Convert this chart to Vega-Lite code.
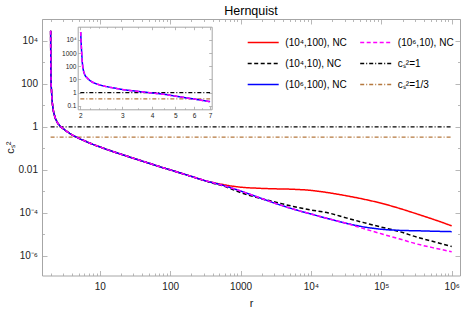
{
  "$schema": "https://vega.github.io/schema/vega-lite/v6.json",
  "autosize": {"type": "none"},
  "padding": {"left": 42, "top": 19, "right": 3, "bottom": 35.5},
  "width": 418,
  "height": 256.5,
  "title": {"text": "Hernquist", "font": "Liberation Sans", "fontSize": 12.5, "fontWeight": "normal", "color": "#000000", "anchor": "middle", "frame": "group", "baseline": "alphabetic", "offset": 7, "dy": 20},
  "config": {
    "view": {"stroke": "#a6a6a6", "strokeWidth": 1},
    "axis": {"grid": false, "tickColor": "#a6a6a6", "domainColor": "#a6a6a6", "tickWidth": 0.8, "labelFont": "Liberation Sans", "titleFont": "Liberation Sans", "labelColor": "#222222", "titleColor": "#222222", "titleFontWeight": "normal", "labelOverlap": false, "labelFlush": false},
    "line": {"interpolate": "monotone"}
  },
  "datasets": {
    "curves": [
      {"s": "(10⁴,100), NC", "r": 2.003, "c": 30000}, {"s": "(10⁴,100), NC", "r": 2.008, "c": 4000}, {"s": "(10⁴,100), NC", "r": 2.015, "c": 800}, {"s": "(10⁴,100), NC", "r": 2.03, "c": 150}, {"s": "(10⁴,100), NC", "r": 2.06, "c": 50}, {"s": "(10⁴,100), NC", "r": 2.1, "c": 18}, {"s": "(10⁴,100), NC", "r": 2.17, "c": 7}, {"s": "(10⁴,100), NC", "r": 2.3, "c": 3}, {"s": "(10⁴,100), NC", "r": 2.45, "c": 1.8}, {"s": "(10⁴,100), NC", "r": 2.7, "c": 1.15}, {"s": "(10⁴,100), NC", "r": 3, "c": 0.85}, {"s": "(10⁴,100), NC", "r": 3.5, "c": 0.58}, {"s": "(10⁴,100), NC", "r": 4, "c": 0.44}, {"s": "(10⁴,100), NC", "r": 5, "c": 0.3}, {"s": "(10⁴,100), NC", "r": 6, "c": 0.23}, {"s": "(10⁴,100), NC", "r": 7, "c": 0.185}, {"s": "(10⁴,100), NC", "r": 8, "c": 0.155}, {"s": "(10⁴,100), NC", "r": 10, "c": 0.118}, {"s": "(10⁴,100), NC", "r": 12, "c": 0.095}, {"s": "(10⁴,100), NC", "r": 15, "c": 0.074}, {"s": "(10⁴,100), NC", "r": 20, "c": 0.054}, {"s": "(10⁴,100), NC", "r": 30, "c": 0.035}, {"s": "(10⁴,100), NC", "r": 50, "c": 0.0205}, {"s": "(10⁴,100), NC", "r": 70, "c": 0.0144}, {"s": "(10⁴,100), NC", "r": 100, "c": 0.0101}, {"s": "(10⁴,100), NC", "r": 150, "c": 0.0067}, {"s": "(10⁴,100), NC", "r": 200, "c": 0.005}, {"s": "(10⁴,100), NC", "r": 300, "c": 0.0033},
      {"s": "(10⁴,100), NC", "r": 398, "c": 0.00263}, {"s": "(10⁴,100), NC", "r": 562, "c": 0.00209}, {"s": "(10⁴,100), NC", "r": 1000, "c": 0.00158}, {"s": "(10⁴,100), NC", "r": 1778, "c": 0.00141}, {"s": "(10⁴,100), NC", "r": 3162, "c": 0.00132}, {"s": "(10⁴,100), NC", "r": 5623, "c": 0.00126}, {"s": "(10⁴,100), NC", "r": 10000, "c": 0.00112}, {"s": "(10⁴,100), NC", "r": 17783, "c": 0.000871}, {"s": "(10⁴,100), NC", "r": 31623, "c": 0.000631}, {"s": "(10⁴,100), NC", "r": 56234, "c": 0.000437}, {"s": "(10⁴,100), NC", "r": 100000, "c": 0.000282}, {"s": "(10⁴,100), NC", "r": 177828, "c": 0.000166}, {"s": "(10⁴,100), NC", "r": 316228, "c": 0.0000912}, {"s": "(10⁴,100), NC", "r": 562341, "c": 0.000049}, {"s": "(10⁴,100), NC", "r": 1000000, "c": 0.0000251},

      {"s": "(10⁴,10), NC", "r": 2.003, "c": 30000}, {"s": "(10⁴,10), NC", "r": 2.008, "c": 4000}, {"s": "(10⁴,10), NC", "r": 2.015, "c": 800}, {"s": "(10⁴,10), NC", "r": 2.03, "c": 150}, {"s": "(10⁴,10), NC", "r": 2.06, "c": 50}, {"s": "(10⁴,10), NC", "r": 2.1, "c": 18}, {"s": "(10⁴,10), NC", "r": 2.17, "c": 7}, {"s": "(10⁴,10), NC", "r": 2.3, "c": 3}, {"s": "(10⁴,10), NC", "r": 2.45, "c": 1.8}, {"s": "(10⁴,10), NC", "r": 2.7, "c": 1.15}, {"s": "(10⁴,10), NC", "r": 3, "c": 0.85}, {"s": "(10⁴,10), NC", "r": 3.5, "c": 0.58}, {"s": "(10⁴,10), NC", "r": 4, "c": 0.44}, {"s": "(10⁴,10), NC", "r": 5, "c": 0.3}, {"s": "(10⁴,10), NC", "r": 6, "c": 0.23}, {"s": "(10⁴,10), NC", "r": 7, "c": 0.185}, {"s": "(10⁴,10), NC", "r": 8, "c": 0.155}, {"s": "(10⁴,10), NC", "r": 10, "c": 0.118}, {"s": "(10⁴,10), NC", "r": 12, "c": 0.095}, {"s": "(10⁴,10), NC", "r": 15, "c": 0.074}, {"s": "(10⁴,10), NC", "r": 20, "c": 0.054}, {"s": "(10⁴,10), NC", "r": 30, "c": 0.035}, {"s": "(10⁴,10), NC", "r": 50, "c": 0.0205}, {"s": "(10⁴,10), NC", "r": 70, "c": 0.0144}, {"s": "(10⁴,10), NC", "r": 100, "c": 0.0101}, {"s": "(10⁴,10), NC", "r": 150, "c": 0.0067}, {"s": "(10⁴,10), NC", "r": 200, "c": 0.005}, {"s": "(10⁴,10), NC", "r": 300, "c": 0.0033},
      {"s": "(10⁴,10), NC", "r": 398, "c": 0.00245}, {"s": "(10⁴,10), NC", "r": 562, "c": 0.00182}, {"s": "(10⁴,10), NC", "r": 1000, "c": 0.000891}, {"s": "(10⁴,10), NC", "r": 1778, "c": 0.000501}, {"s": "(10⁴,10), NC", "r": 3162, "c": 0.000316}, {"s": "(10⁴,10), NC", "r": 5623, "c": 0.0002}, {"s": "(10⁴,10), NC", "r": 10000, "c": 0.000138}, {"s": "(10⁴,10), NC", "r": 17783, "c": 0.0001}, {"s": "(10⁴,10), NC", "r": 31623, "c": 0.0000589}, {"s": "(10⁴,10), NC", "r": 56234, "c": 0.0000355}, {"s": "(10⁴,10), NC", "r": 100000, "c": 0.0000219}, {"s": "(10⁴,10), NC", "r": 177828, "c": 0.0000138}, {"s": "(10⁴,10), NC", "r": 316228, "c": 0.00000759}, {"s": "(10⁴,10), NC", "r": 562341, "c": 0.00000457}, {"s": "(10⁴,10), NC", "r": 1000000, "c": 0.00000275},

      {"s": "(10⁶,100), NC", "r": 2.003, "c": 30000}, {"s": "(10⁶,100), NC", "r": 2.008, "c": 4000}, {"s": "(10⁶,100), NC", "r": 2.015, "c": 800}, {"s": "(10⁶,100), NC", "r": 2.03, "c": 150}, {"s": "(10⁶,100), NC", "r": 2.06, "c": 50}, {"s": "(10⁶,100), NC", "r": 2.1, "c": 18}, {"s": "(10⁶,100), NC", "r": 2.17, "c": 7}, {"s": "(10⁶,100), NC", "r": 2.3, "c": 3}, {"s": "(10⁶,100), NC", "r": 2.45, "c": 1.8}, {"s": "(10⁶,100), NC", "r": 2.7, "c": 1.15}, {"s": "(10⁶,100), NC", "r": 3, "c": 0.85}, {"s": "(10⁶,100), NC", "r": 3.5, "c": 0.58}, {"s": "(10⁶,100), NC", "r": 4, "c": 0.44}, {"s": "(10⁶,100), NC", "r": 5, "c": 0.3}, {"s": "(10⁶,100), NC", "r": 6, "c": 0.23}, {"s": "(10⁶,100), NC", "r": 7, "c": 0.185}, {"s": "(10⁶,100), NC", "r": 8, "c": 0.155}, {"s": "(10⁶,100), NC", "r": 10, "c": 0.118}, {"s": "(10⁶,100), NC", "r": 12, "c": 0.095}, {"s": "(10⁶,100), NC", "r": 15, "c": 0.074}, {"s": "(10⁶,100), NC", "r": 20, "c": 0.054}, {"s": "(10⁶,100), NC", "r": 30, "c": 0.035}, {"s": "(10⁶,100), NC", "r": 50, "c": 0.0205}, {"s": "(10⁶,100), NC", "r": 70, "c": 0.0144}, {"s": "(10⁶,100), NC", "r": 100, "c": 0.0101}, {"s": "(10⁶,100), NC", "r": 150, "c": 0.0067}, {"s": "(10⁶,100), NC", "r": 200, "c": 0.005}, {"s": "(10⁶,100), NC", "r": 300, "c": 0.0033},
      {"s": "(10⁶,100), NC", "r": 398, "c": 0.0026}, {"s": "(10⁶,100), NC", "r": 562, "c": 0.00191}, {"s": "(10⁶,100), NC", "r": 1000, "c": 0.00105}, {"s": "(10⁶,100), NC", "r": 1778, "c": 0.000537}, {"s": "(10⁶,100), NC", "r": 3162, "c": 0.000275}, {"s": "(10⁶,100), NC", "r": 5623, "c": 0.000151}, {"s": "(10⁶,100), NC", "r": 10000, "c": 0.0000891}, {"s": "(10⁶,100), NC", "r": 17783, "c": 0.0000537}, {"s": "(10⁶,100), NC", "r": 31623, "c": 0.0000331}, {"s": "(10⁶,100), NC", "r": 56234, "c": 0.0000224}, {"s": "(10⁶,100), NC", "r": 100000, "c": 0.0000174}, {"s": "(10⁶,100), NC", "r": 177828, "c": 0.0000155}, {"s": "(10⁶,100), NC", "r": 316228, "c": 0.0000148}, {"s": "(10⁶,100), NC", "r": 562341, "c": 0.0000141}, {"s": "(10⁶,100), NC", "r": 1000000, "c": 0.0000135},

      {"s": "(10⁶,10), NC", "r": 2.003, "c": 30000}, {"s": "(10⁶,10), NC", "r": 2.008, "c": 4000}, {"s": "(10⁶,10), NC", "r": 2.015, "c": 800}, {"s": "(10⁶,10), NC", "r": 2.03, "c": 150}, {"s": "(10⁶,10), NC", "r": 2.06, "c": 50}, {"s": "(10⁶,10), NC", "r": 2.1, "c": 18}, {"s": "(10⁶,10), NC", "r": 2.17, "c": 7}, {"s": "(10⁶,10), NC", "r": 2.3, "c": 3}, {"s": "(10⁶,10), NC", "r": 2.45, "c": 1.8}, {"s": "(10⁶,10), NC", "r": 2.7, "c": 1.15}, {"s": "(10⁶,10), NC", "r": 3, "c": 0.85}, {"s": "(10⁶,10), NC", "r": 3.5, "c": 0.58}, {"s": "(10⁶,10), NC", "r": 4, "c": 0.44}, {"s": "(10⁶,10), NC", "r": 5, "c": 0.3}, {"s": "(10⁶,10), NC", "r": 6, "c": 0.23}, {"s": "(10⁶,10), NC", "r": 7, "c": 0.185}, {"s": "(10⁶,10), NC", "r": 8, "c": 0.155}, {"s": "(10⁶,10), NC", "r": 10, "c": 0.118}, {"s": "(10⁶,10), NC", "r": 12, "c": 0.095}, {"s": "(10⁶,10), NC", "r": 15, "c": 0.074}, {"s": "(10⁶,10), NC", "r": 20, "c": 0.054}, {"s": "(10⁶,10), NC", "r": 30, "c": 0.035}, {"s": "(10⁶,10), NC", "r": 50, "c": 0.0205}, {"s": "(10⁶,10), NC", "r": 70, "c": 0.0144}, {"s": "(10⁶,10), NC", "r": 100, "c": 0.0101}, {"s": "(10⁶,10), NC", "r": 150, "c": 0.0067}, {"s": "(10⁶,10), NC", "r": 200, "c": 0.005}, {"s": "(10⁶,10), NC", "r": 300, "c": 0.0033},
      {"s": "(10⁶,10), NC", "r": 398, "c": 0.0026}, {"s": "(10⁶,10), NC", "r": 562, "c": 0.00191}, {"s": "(10⁶,10), NC", "r": 1000, "c": 0.00105}, {"s": "(10⁶,10), NC", "r": 1778, "c": 0.000537}, {"s": "(10⁶,10), NC", "r": 3162, "c": 0.000275}, {"s": "(10⁶,10), NC", "r": 5623, "c": 0.000151}, {"s": "(10⁶,10), NC", "r": 10000, "c": 0.0000891}, {"s": "(10⁶,10), NC", "r": 17783, "c": 0.0000537}, {"s": "(10⁶,10), NC", "r": 31623, "c": 0.0000331}, {"s": "(10⁶,10), NC", "r": 56234, "c": 0.0000186}, {"s": "(10⁶,10), NC", "r": 100000, "c": 0.0000107}, {"s": "(10⁶,10), NC", "r": 177828, "c": 0.00000631}, {"s": "(10⁶,10), NC", "r": 316228, "c": 0.00000363}, {"s": "(10⁶,10), NC", "r": 562341, "c": 0.00000234}, {"s": "(10⁶,10), NC", "r": 1000000, "c": 0.00000158}
    ],
    "hl": [
      {"s": "cₛ²=1", "r": 2, "c": 1}, {"s": "cₛ²=1", "r": 1000000, "c": 1},
      {"s": "cₛ²=1/3", "r": 2, "c": 0.33333}, {"s": "cₛ²=1/3", "r": 1000000, "c": 0.33333}
    ],
    "inset": [
      {"s": "(10⁶,100), NC", "r": 2.007, "c": 40000}, {"s": "(10⁶,100), NC", "r": 2.013, "c": 10000}, {"s": "(10⁶,100), NC", "r": 2.02, "c": 3000}, {"s": "(10⁶,100), NC", "r": 2.027, "c": 1000}, {"s": "(10⁶,100), NC", "r": 2.035, "c": 300}, {"s": "(10⁶,100), NC", "r": 2.047, "c": 100}, {"s": "(10⁶,100), NC", "r": 2.06, "c": 50}, {"s": "(10⁶,100), NC", "r": 2.09, "c": 22}, {"s": "(10⁶,100), NC", "r": 2.13, "c": 14}, {"s": "(10⁶,100), NC", "r": 2.2, "c": 8}, {"s": "(10⁶,100), NC", "r": 2.3, "c": 5.2}, {"s": "(10⁶,100), NC", "r": 2.4, "c": 4}, {"s": "(10⁶,100), NC", "r": 2.6, "c": 2.8}, {"s": "(10⁶,100), NC", "r": 2.8, "c": 2.2}, {"s": "(10⁶,100), NC", "r": 3, "c": 1.75}, {"s": "(10⁶,100), NC", "r": 3.5, "c": 1.25}, {"s": "(10⁶,100), NC", "r": 4, "c": 0.95}, {"s": "(10⁶,100), NC", "r": 4.5, "c": 0.75}, {"s": "(10⁶,100), NC", "r": 5, "c": 0.55}, {"s": "(10⁶,100), NC", "r": 5.5, "c": 0.42}, {"s": "(10⁶,100), NC", "r": 6, "c": 0.33}, {"s": "(10⁶,100), NC", "r": 6.5, "c": 0.26}, {"s": "(10⁶,100), NC", "r": 7, "c": 0.21},
      {"s": "(10⁶,10), NC", "r": 2.007, "c": 40000}, {"s": "(10⁶,10), NC", "r": 2.013, "c": 10000}, {"s": "(10⁶,10), NC", "r": 2.02, "c": 3000}, {"s": "(10⁶,10), NC", "r": 2.027, "c": 1000}, {"s": "(10⁶,10), NC", "r": 2.035, "c": 300}, {"s": "(10⁶,10), NC", "r": 2.047, "c": 100}, {"s": "(10⁶,10), NC", "r": 2.06, "c": 50}, {"s": "(10⁶,10), NC", "r": 2.09, "c": 22}, {"s": "(10⁶,10), NC", "r": 2.13, "c": 14}, {"s": "(10⁶,10), NC", "r": 2.2, "c": 8}, {"s": "(10⁶,10), NC", "r": 2.3, "c": 5.2}, {"s": "(10⁶,10), NC", "r": 2.4, "c": 4}, {"s": "(10⁶,10), NC", "r": 2.6, "c": 2.8}, {"s": "(10⁶,10), NC", "r": 2.8, "c": 2.2}, {"s": "(10⁶,10), NC", "r": 3, "c": 1.75}, {"s": "(10⁶,10), NC", "r": 3.5, "c": 1.25}, {"s": "(10⁶,10), NC", "r": 4, "c": 0.95}, {"s": "(10⁶,10), NC", "r": 4.5, "c": 0.75}, {"s": "(10⁶,10), NC", "r": 5, "c": 0.55}, {"s": "(10⁶,10), NC", "r": 5.5, "c": 0.42}, {"s": "(10⁶,10), NC", "r": 6, "c": 0.33}, {"s": "(10⁶,10), NC", "r": 6.5, "c": 0.26}, {"s": "(10⁶,10), NC", "r": 7, "c": 0.21}
    ],
    "insethl": [
      {"s": "cₛ²=1", "r": 2, "c": 1}, {"s": "cₛ²=1", "r": 7, "c": 1},
      {"s": "cₛ²=1/3", "r": 2, "c": 0.33333}, {"s": "cₛ²=1/3", "r": 7, "c": 0.33333}
    ]
  },
  "layer": [
    {
      "resolve": {"axis": {"x": "independent", "y": "independent"}},
      "layer": [
        {
          "data": {"name": "hl"},
          "mark": {"type": "line", "strokeWidth": 1.3, "clip": true},
          "encoding": {
            "x": {"field": "r", "type": "quantitative", "scale": {"type": "log", "domain": [1.51, 1312000], "nice": false},
                  "axis": {"orient": "top", "labels": false, "domain": false, "title": null, "minExtent": 0, "maxExtent": 0, "values": [2,3,4,5,6,7,8,9,10,20,30,40,50,60,70,80,90,100,200,300,400,500,600,700,800,900,1000,2000,3000,4000,5000,6000,7000,8000,9000,10000,20000,30000,40000,50000,60000,70000,80000,90000,100000,200000,300000,400000,500000,600000,700000,800000,900000,1000000],
                           "tickSize": {"condition": {"test": "datum.value==10||datum.value==100||datum.value==1000||datum.value==10000||datum.value==100000||datum.value==1000000", "value": -5}, "value": -2.5}}},
            "y": {"field": "c", "type": "quantitative", "scale": {"type": "log", "domain": [1.23e-7, 105000], "nice": false},
                  "axis": {"orient": "right", "labels": false, "domain": false, "title": null, "minExtent": 0, "maxExtent": 0, "values": [0.000001,0.00001,0.0001,0.001,0.01,0.1,1,10,100,1000,10000,100000],
                           "tickSize": {"condition": {"test": "datum.value==10000||datum.value==100||datum.value==1||datum.value==0.01||datum.value==0.0001||datum.value==0.000001", "value": -5}, "value": -2.5}}},
            "color": {"field": "s", "type": "nominal",
                      "scale": {"domain": ["(10⁴,100), NC", "(10⁴,10), NC", "(10⁶,100), NC", "(10⁶,10), NC", "cₛ²=1", "cₛ²=1/3"], "range": ["#ff0000", "#000000", "#0000ff", "#ff00ff", "#000000", "#b5783e"]},
                      "legend": {"title": null, "orient": "none", "legendX": 210.2, "legendY": 12.6, "columns": 2, "symbolType": "M-1.55,0L1.55,0", "symbolSize": 400, "symbolStrokeWidth": 1.5, "labelOffset": 11.1, "rowPadding": 5, "columnPadding": 9.5, "padding": 0, "labelFont": "Liberation Sans", "labelFontSize": 10, "labelColor": "#000000", "labelLimit": 300}},
            "strokeDash": {"field": "s", "type": "nominal",
                           "scale": {"domain": ["(10⁴,100), NC", "(10⁴,10), NC", "(10⁶,100), NC", "(10⁶,10), NC", "cₛ²=1", "cₛ²=1/3"], "range": [[1, 0], [4, 2.5], [1, 0], [4, 2.5], [4, 2, 1, 2], [4, 2, 1, 2]]}}
          }
        },
        {
          "data": {"name": "curves"},
          "transform": [{"filter": {"field": "s", "equal": "(10⁴,100), NC"}}],
          "mark": {"type": "line", "strokeWidth": 1.5, "clip": true},
          "encoding": {
            "x": {"field": "r", "type": "quantitative", "scale": {"type": "log", "domain": [1.51, 1312000], "nice": false},
                  "axis": {"orient": "bottom", "domain": false, "title": "r", "titleFontSize": 11, "titlePadding": 3, "labelFontSize": 10, "labelPadding": 11, "values": [2,3,4,5,6,7,8,9,10,20,30,40,50,60,70,80,90,100,200,300,400,500,600,700,800,900,1000,2000,3000,4000,5000,6000,7000,8000,9000,10000,20000,30000,40000,50000,60000,70000,80000,90000,100000,200000,300000,400000,500000,600000,700000,800000,900000,1000000],
                           "labelExpr": "datum.value==10?'10':datum.value==100?'100':datum.value==1000?'1000':datum.value==10000?'10⁴':datum.value==100000?'10⁵':datum.value==1000000?'10⁶':''",
                           "tickSize": {"condition": {"test": "datum.value==10||datum.value==100||datum.value==1000||datum.value==10000||datum.value==100000||datum.value==1000000", "value": -5}, "value": -2.5}}},
            "y": {"field": "c", "type": "quantitative", "scale": {"type": "log", "domain": [1.23e-7, 105000], "nice": false},
                  "axis": {"orient": "left", "domain": false, "title": "cₛ²", "titleFontSize": 11, "titlePadding": 3, "labelFontSize": 10, "labelPadding": 9.5, "values": [0.000001,0.00001,0.0001,0.001,0.01,0.1,1,10,100,1000,10000,100000],
                           "labelExpr": "datum.value==10000?'10⁴':datum.value==100?'100':datum.value==1?'1':datum.value==0.01?'0.01':datum.value==0.0001?'10⁻⁴':datum.value==0.000001?'10⁻⁶':''",
                           "tickSize": {"condition": {"test": "datum.value==10000||datum.value==100||datum.value==1||datum.value==0.01||datum.value==0.0001||datum.value==0.000001", "value": -5}, "value": -2.5}}},
            "color": {"field": "s", "type": "nominal",
                      "scale": {"domain": ["(10⁴,100), NC", "(10⁴,10), NC", "(10⁶,100), NC", "(10⁶,10), NC", "cₛ²=1", "cₛ²=1/3"], "range": ["#ff0000", "#000000", "#0000ff", "#ff00ff", "#000000", "#b5783e"]},
                      "legend": {"title": null, "orient": "none", "legendX": 210.2, "legendY": 12.6, "columns": 2, "symbolType": "M-1.55,0L1.55,0", "symbolSize": 400, "symbolStrokeWidth": 1.5, "labelOffset": 11.1, "rowPadding": 5, "columnPadding": 9.5, "padding": 0, "labelFont": "Liberation Sans", "labelFontSize": 10, "labelColor": "#000000", "labelLimit": 300}},
            "strokeDash": {"field": "s", "type": "nominal",
                           "scale": {"domain": ["(10⁴,100), NC", "(10⁴,10), NC", "(10⁶,100), NC", "(10⁶,10), NC", "cₛ²=1", "cₛ²=1/3"], "range": [[1, 0], [4, 2.5], [1, 0], [4, 2.5], [4, 2, 1, 2], [4, 2, 1, 2]]}}
          }
        },
        {
          "data": {"name": "curves"},
          "transform": [{"filter": {"field": "s", "equal": "(10⁴,10), NC"}}],
          "mark": {"type": "line", "strokeWidth": 1.5, "clip": true},
          "encoding": {
            "x": {"field": "r", "type": "quantitative", "scale": {"type": "log", "domain": [1.51, 1312000], "nice": false}, "axis": null},
            "y": {"field": "c", "type": "quantitative", "scale": {"type": "log", "domain": [1.23e-7, 105000], "nice": false}, "axis": null},
            "color": {"field": "s", "type": "nominal",
                      "scale": {"domain": ["(10⁴,100), NC", "(10⁴,10), NC", "(10⁶,100), NC", "(10⁶,10), NC", "cₛ²=1", "cₛ²=1/3"], "range": ["#ff0000", "#000000", "#0000ff", "#ff00ff", "#000000", "#b5783e"]},
                      "legend": {"title": null, "orient": "none", "legendX": 210.2, "legendY": 12.6, "columns": 2, "symbolType": "M-1.55,0L1.55,0", "symbolSize": 400, "symbolStrokeWidth": 1.5, "labelOffset": 11.1, "rowPadding": 5, "columnPadding": 9.5, "padding": 0, "labelFont": "Liberation Sans", "labelFontSize": 10, "labelColor": "#000000", "labelLimit": 300}},
            "strokeDash": {"field": "s", "type": "nominal",
                           "scale": {"domain": ["(10⁴,100), NC", "(10⁴,10), NC", "(10⁶,100), NC", "(10⁶,10), NC", "cₛ²=1", "cₛ²=1/3"], "range": [[1, 0], [4, 2.5], [1, 0], [4, 2.5], [4, 2, 1, 2], [4, 2, 1, 2]]}}
          }
        },
        {
          "data": {"name": "curves"},
          "transform": [{"filter": {"field": "s", "equal": "(10⁶,100), NC"}}],
          "mark": {"type": "line", "strokeWidth": 1.5, "clip": true},
          "encoding": {
            "x": {"field": "r", "type": "quantitative", "scale": {"type": "log", "domain": [1.51, 1312000], "nice": false}, "axis": null},
            "y": {"field": "c", "type": "quantitative", "scale": {"type": "log", "domain": [1.23e-7, 105000], "nice": false}, "axis": null},
            "color": {"field": "s", "type": "nominal",
                      "scale": {"domain": ["(10⁴,100), NC", "(10⁴,10), NC", "(10⁶,100), NC", "(10⁶,10), NC", "cₛ²=1", "cₛ²=1/3"], "range": ["#ff0000", "#000000", "#0000ff", "#ff00ff", "#000000", "#b5783e"]},
                      "legend": {"title": null, "orient": "none", "legendX": 210.2, "legendY": 12.6, "columns": 2, "symbolType": "M-1.55,0L1.55,0", "symbolSize": 400, "symbolStrokeWidth": 1.5, "labelOffset": 11.1, "rowPadding": 5, "columnPadding": 9.5, "padding": 0, "labelFont": "Liberation Sans", "labelFontSize": 10, "labelColor": "#000000", "labelLimit": 300}},
            "strokeDash": {"field": "s", "type": "nominal",
                           "scale": {"domain": ["(10⁴,100), NC", "(10⁴,10), NC", "(10⁶,100), NC", "(10⁶,10), NC", "cₛ²=1", "cₛ²=1/3"], "range": [[1, 0], [4, 2.5], [1, 0], [4, 2.5], [4, 2, 1, 2], [4, 2, 1, 2]]}}
          }
        },
        {
          "data": {"name": "curves"},
          "transform": [{"filter": {"field": "s", "equal": "(10⁶,10), NC"}}],
          "mark": {"type": "line", "strokeWidth": 1.5, "clip": true},
          "encoding": {
            "x": {"field": "r", "type": "quantitative", "scale": {"type": "log", "domain": [1.51, 1312000], "nice": false}, "axis": null},
            "y": {"field": "c", "type": "quantitative", "scale": {"type": "log", "domain": [1.23e-7, 105000], "nice": false}, "axis": null},
            "color": {"field": "s", "type": "nominal",
                      "scale": {"domain": ["(10⁴,100), NC", "(10⁴,10), NC", "(10⁶,100), NC", "(10⁶,10), NC", "cₛ²=1", "cₛ²=1/3"], "range": ["#ff0000", "#000000", "#0000ff", "#ff00ff", "#000000", "#b5783e"]},
                      "legend": {"title": null, "orient": "none", "legendX": 210.2, "legendY": 12.6, "columns": 2, "symbolType": "M-1.55,0L1.55,0", "symbolSize": 400, "symbolStrokeWidth": 1.5, "labelOffset": 11.1, "rowPadding": 5, "columnPadding": 9.5, "padding": 0, "labelFont": "Liberation Sans", "labelFontSize": 10, "labelColor": "#000000", "labelLimit": 300}},
            "strokeDash": {"field": "s", "type": "nominal",
                           "scale": {"domain": ["(10⁴,100), NC", "(10⁴,10), NC", "(10⁶,100), NC", "(10⁶,10), NC", "cₛ²=1", "cₛ²=1/3"], "range": [[1, 0], [4, 2.5], [1, 0], [4, 2.5], [4, 2, 1, 2], [4, 2, 1, 2]]}}
          }
        }
      ]
    },
    {
      "resolve": {"axis": {"x": "independent", "y": "independent"}},
      "layer": [
        {
          "data": {"name": "insethl"},
          "mark": {"type": "line", "strokeWidth": 1.3},
          "encoding": {
            "x": {"field": "r", "type": "quantitative", "scale": {"type": "log", "domain": [1.95, 7.11], "nice": false, "range": [35.7, 169.7]},
                  "axis": {"orient": "top", "offset": -7.7, "labels": false, "domain": true, "title": null, "minExtent": 0, "maxExtent": 0, "values": [2,2.2,2.4,2.6,2.8,3,3.5,4,4.5,5,5.5,6,6.5,7],
                           "tickSize": {"condition": {"test": "datum.value==floor(datum.value)", "value": -3}, "value": -1.5}}},
            "y": {"field": "c", "type": "quantitative", "scale": {"type": "log", "domain": [0.055, 100000], "nice": false, "range": [90.3, 7.7]},
                  "axis": {"orient": "right", "offset": -248.3, "labels": false, "domain": true, "title": null, "minExtent": 0, "maxExtent": 0, "values": [0.1,1,10,100,1000,10000], "tickSize": -3}},
            "color": {"field": "s", "type": "nominal",
                      "scale": {"domain": ["(10⁴,100), NC", "(10⁴,10), NC", "(10⁶,100), NC", "(10⁶,10), NC", "cₛ²=1", "cₛ²=1/3"], "range": ["#ff0000", "#000000", "#0000ff", "#ff00ff", "#000000", "#b5783e"]},
                      "legend": {"title": null, "orient": "none", "legendX": 210.2, "legendY": 12.6, "columns": 2, "symbolType": "M-1.55,0L1.55,0", "symbolSize": 400, "symbolStrokeWidth": 1.5, "labelOffset": 11.1, "rowPadding": 5, "columnPadding": 9.5, "padding": 0, "labelFont": "Liberation Sans", "labelFontSize": 10, "labelColor": "#000000", "labelLimit": 300}},
            "strokeDash": {"field": "s", "type": "nominal",
                           "scale": {"domain": ["(10⁴,100), NC", "(10⁴,10), NC", "(10⁶,100), NC", "(10⁶,10), NC", "cₛ²=1", "cₛ²=1/3"], "range": [[1, 0], [4, 2.5], [1, 0], [4, 2.5], [4, 2, 1, 2], [4, 2, 1, 2]]}}
          }
        },
        {
          "data": {"name": "inset"},
          "transform": [{"filter": {"field": "s", "equal": "(10⁶,100), NC"}}],
          "mark": {"type": "line", "strokeWidth": 1.5},
          "encoding": {
            "x": {"field": "r", "type": "quantitative", "scale": {"type": "log", "domain": [1.95, 7.11], "nice": false, "range": [35.7, 169.7]},
                  "axis": {"orient": "bottom", "offset": -166.2, "domain": true, "title": null, "labelFontSize": 6.5, "labelPadding": 6.5, "values": [2,2.2,2.4,2.6,2.8,3,3.5,4,4.5,5,5.5,6,6.5,7],
                           "labelExpr": "datum.value==floor(datum.value)?''+datum.value:''",
                           "tickSize": {"condition": {"test": "datum.value==floor(datum.value)", "value": -3}, "value": -1.5}}},
            "y": {"field": "c", "type": "quantitative", "scale": {"type": "log", "domain": [0.055, 100000], "nice": false, "range": [90.3, 7.7]},
                  "axis": {"orient": "left", "offset": -35.7, "domain": true, "title": null, "labelFontSize": 6.5, "labelPadding": 4.7, "values": [0.1,1,10,100,1000,10000], "tickSize": -3,
                           "labelExpr": "datum.value==10000?'10⁴':datum.value==0.1?'0.1':''+datum.value"}},
            "color": {"field": "s", "type": "nominal",
                      "scale": {"domain": ["(10⁴,100), NC", "(10⁴,10), NC", "(10⁶,100), NC", "(10⁶,10), NC", "cₛ²=1", "cₛ²=1/3"], "range": ["#ff0000", "#000000", "#0000ff", "#ff00ff", "#000000", "#b5783e"]},
                      "legend": {"title": null, "orient": "none", "legendX": 210.2, "legendY": 12.6, "columns": 2, "symbolType": "M-1.55,0L1.55,0", "symbolSize": 400, "symbolStrokeWidth": 1.5, "labelOffset": 11.1, "rowPadding": 5, "columnPadding": 9.5, "padding": 0, "labelFont": "Liberation Sans", "labelFontSize": 10, "labelColor": "#000000", "labelLimit": 300}},
            "strokeDash": {"field": "s", "type": "nominal",
                           "scale": {"domain": ["(10⁴,100), NC", "(10⁴,10), NC", "(10⁶,100), NC", "(10⁶,10), NC", "cₛ²=1", "cₛ²=1/3"], "range": [[1, 0], [4, 2.5], [1, 0], [4, 2.5], [4, 2, 1, 2], [4, 2, 1, 2]]}}
          }
        },
        {
          "data": {"name": "inset"},
          "transform": [{"filter": {"field": "s", "equal": "(10⁶,10), NC"}}],
          "mark": {"type": "line", "strokeWidth": 1.5},
          "encoding": {
            "x": {"field": "r", "type": "quantitative", "scale": {"type": "log", "domain": [1.95, 7.11], "nice": false, "range": [35.7, 169.7]}, "axis": null},
            "y": {"field": "c", "type": "quantitative", "scale": {"type": "log", "domain": [0.055, 100000], "nice": false, "range": [90.3, 7.7]}, "axis": null},
            "color": {"field": "s", "type": "nominal",
                      "scale": {"domain": ["(10⁴,100), NC", "(10⁴,10), NC", "(10⁶,100), NC", "(10⁶,10), NC", "cₛ²=1", "cₛ²=1/3"], "range": ["#ff0000", "#000000", "#0000ff", "#ff00ff", "#000000", "#b5783e"]},
                      "legend": {"title": null, "orient": "none", "legendX": 210.2, "legendY": 12.6, "columns": 2, "symbolType": "M-1.55,0L1.55,0", "symbolSize": 400, "symbolStrokeWidth": 1.5, "labelOffset": 11.1, "rowPadding": 5, "columnPadding": 9.5, "padding": 0, "labelFont": "Liberation Sans", "labelFontSize": 10, "labelColor": "#000000", "labelLimit": 300}},
            "strokeDash": {"field": "s", "type": "nominal",
                           "scale": {"domain": ["(10⁴,100), NC", "(10⁴,10), NC", "(10⁶,100), NC", "(10⁶,10), NC", "cₛ²=1", "cₛ²=1/3"], "range": [[1, 0], [4, 2.5], [1, 0], [4, 2.5], [4, 2, 1, 2], [4, 2, 1, 2]]}}
          }
        }
      ]
    }
  ],
  "resolve": {"scale": {"x": "independent", "y": "independent"}, "axis": {"x": "independent", "y": "independent"}}
}
